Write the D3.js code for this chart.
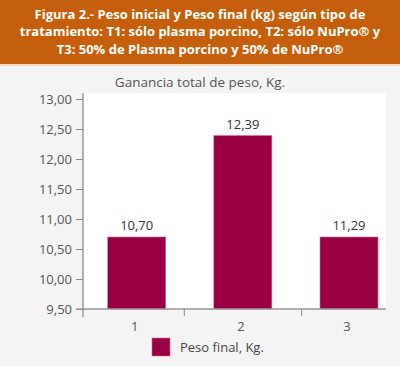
<!DOCTYPE html>
<html>
<head>
<meta charset="utf-8">
<script src="https://cdn.jsdelivr.net/npm/d3@7"></script>
<style>
  body { margin: 0; background: #f4f4f4; }
  svg { display: block; font-family: "Open Sans", "Noto Sans", sans-serif; }
</style>
</head>
<body>
<div id="chart"></div>
<script>
// chart data
var categories = [1, 2, 3];
var barValues = [10.70, 12.39, 10.70];      // heights as drawn in the figure
var labelValues = ["10,70", "12,39", "11,29"]; // printed labels
var yTicks = [9.5, 10, 10.5, 11, 11.5, 12, 12.5, 13];
var titleLines = [
    "Figura 2.- Peso inicial y Peso final (kg) según tipo de",
    "tratamiento: T1: sólo plasma porcino, T2: sólo NuPro® y",
    "T3: 50% de Plasma porcino y 50% de NuPro®"
];
var chartTitle = "Ganancia total de peso, Kg.";
var legendLabel = "Peso final, Kg.";

var width = 400, height = 366;
var plot = {left: 83, right: 386, top: 93, bottom: 309};

var svg = d3.select("#chart").append("svg")
    .attr("width", width)
    .attr("height", height);

// background + header band
svg.append("rect").attr("width", width).attr("height", height).attr("fill", "#f4f4f4");
svg.append("rect").attr("width", width).attr("height", 66).attr("fill", "#fbd9b8");
svg.append("rect").attr("width", width).attr("height", 64).attr("fill", "#c65f0b");

svg.append("g").selectAll("text")
    .data(titleLines)
    .enter().append("text")
    .attr("x", 200)
    .attr("y", function(d, i) { return 18.5 + i * 17.5; })
    .attr("text-anchor", "middle")
    .attr("fill", "#fff")
    .attr("font-size", 13)
    .attr("font-weight", "bold")
    .text(function(d) { return d; });

// plot area
svg.append("rect")
    .attr("x", plot.left).attr("y", plot.top)
    .attr("width", plot.right - plot.left).attr("height", plot.bottom - plot.top)
    .attr("fill", "#fff");

svg.append("text")
    .attr("x", 200).attr("y", 87)
    .attr("text-anchor", "middle")
    .attr("fill", "#555")
    .attr("font-size", 13.5)
    .text(chartTitle);

var y = d3.scaleLinear().domain([9.5, 13]).range([plot.bottom, plot.top + 6]);
var x = d3.scaleLinear().domain([1, 3]).range([136.7, 349]);
var barW = 58;

// bars
svg.append("g").selectAll("rect")
    .data(categories)
    .enter().append("rect")
    .attr("x", function(d) { return x(d) - barW / 2; })
    .attr("y", function(d, i) { return y(barValues[i]); })
    .attr("width", barW)
    .attr("height", function(d, i) { return plot.bottom - y(barValues[i]); })
    .attr("fill", "#990044")
    .attr("stroke", "#d2669a")
    .attr("stroke-width", 0.6);

// value labels
svg.append("g").selectAll("text")
    .data(categories)
    .enter().append("text")
    .attr("x", function(d) { return x(d); })
    .attr("y", function(d, i) { return y(barValues[i]) - 7; })
    .attr("text-anchor", "middle")
    .attr("fill", "#333")
    .attr("font-size", 13)
    .text(function(d, i) { return labelValues[i]; });

// y axis
var yAxis = d3.axisLeft(y)
    .tickValues(yTicks)
    .tickSize(7)
    .tickPadding(4)
    .tickFormat(function(d) { return d3.format(".2f")(d).replace(".", ","); });

var yg = svg.append("g")
    .attr("transform", "translate(" + plot.left + ",0)")
    .call(yAxis);
yg.select(".domain").remove();
yg.selectAll("line").attr("stroke", "#888");
yg.selectAll("text").attr("fill", "#555").attr("font-size", 13)
    .attr("font-family", "\"Open Sans\", \"Noto Sans\", sans-serif");
svg.append("line")
    .attr("x1", plot.left).attr("x2", plot.left)
    .attr("y1", plot.top).attr("y2", plot.bottom + 8)
    .attr("stroke", "#999").attr("stroke-width", 1.5);

// x axis
svg.append("line")
    .attr("x1", plot.left - 7).attr("x2", plot.right)
    .attr("y1", plot.bottom).attr("y2", plot.bottom)
    .attr("stroke", "#999").attr("stroke-width", 1.5);

svg.append("g").selectAll("line")
    .data([1.5, 2.5])
    .enter().append("line")
    .attr("x1", function(d) { return d === 1.5 ? 184.3 : 301.7; })
    .attr("x2", function(d) { return d === 1.5 ? 184.3 : 301.7; })
    .attr("y1", plot.bottom).attr("y2", plot.bottom + 7)
    .attr("stroke", "#888");

svg.append("g").selectAll("text")
    .data(categories)
    .enter().append("text")
    .attr("x", function(d) { return x(d) - 2; })
    .attr("y", plot.bottom + 22)
    .attr("text-anchor", "middle")
    .attr("fill", "#555")
    .attr("font-size", 13)
    .text(function(d) { return d; });

// legend
svg.append("rect")
    .attr("x", 152).attr("y", 338)
    .attr("width", 18).attr("height", 18)
    .attr("fill", "#990044")
    .attr("stroke", "#d2669a").attr("stroke-width", 0.6);
svg.append("text")
    .attr("x", 180).attr("y", 352)
    .attr("fill", "#444")
    .attr("font-size", 13)
    .text(legendLabel);
</script>
</body>
</html>
